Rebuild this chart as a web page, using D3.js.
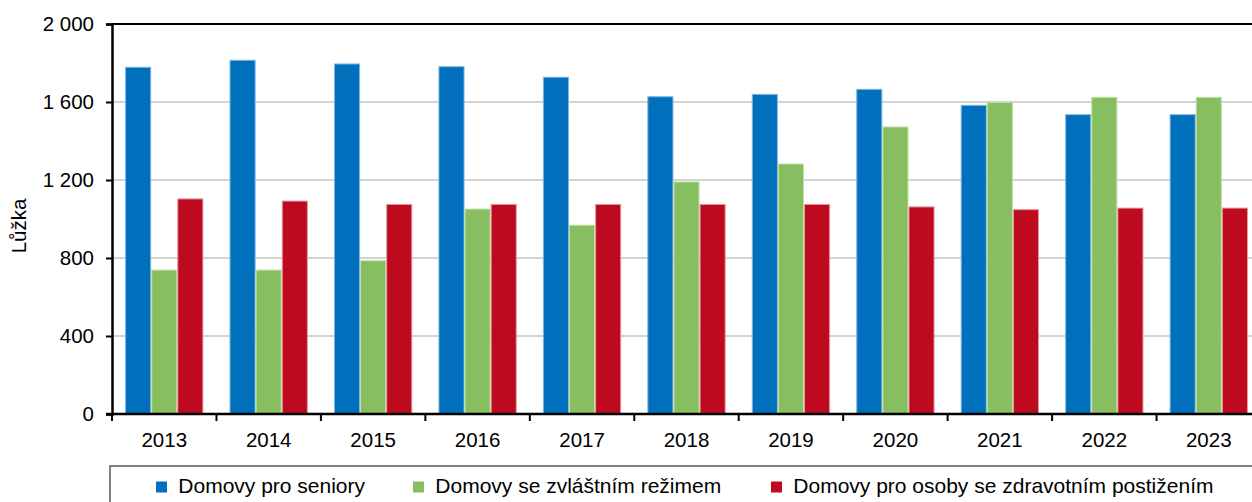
<!DOCTYPE html>
<html><head><meta charset="utf-8">
<script src="https://cdn.jsdelivr.net/npm/d3@7"></script>
<style>
html,body{margin:0;padding:0;background:#fff;overflow:hidden}
svg{display:block;font-family:"Liberation Sans",Arial,sans-serif}
</style></head>
<body>
<svg id="chart" width="1252" height="502"></svg>
<script>
const years = ["2013","2014","2015","2016","2017","2018","2019","2020","2021","2022","2023"];
const seriesNames = ["Domovy pro seniory","Domovy se zvláštním režimem","Domovy pro osoby se zdravotním postižením"];
const seniory = [1778,1814,1795,1781,1727,1627,1639,1665,1583,1535,1535];
const rezim    = [738,738,786,1051,968,1190,1282,1472,1598,1624,1624];
const postizeni= [1103,1092,1075,1075,1075,1075,1075,1062,1048,1056,1056];
const colors = ["#0070bd","#87be5f","#bd0a1e"];
const strokes = ["#7fb6e0","#c0e0a8","#e59aa3"];
const yTicks = [0,400,800,1200,1600,2000];

const series = [seniory, rezim, postizeni];
const svg = d3.select("#chart");
const mLeft = 112, mRight = 1261, mTop = 24, mBottom = 414;

const x = d3.scaleBand().domain(years).range([mLeft, mRight]).paddingInner(0.25).paddingOuter(0.125);
const xOuter = d3.scaleBand().domain(years).range([mLeft, mRight]);
const xs = d3.scaleBand().domain([0,1,2]).range([0, x.bandwidth()]);
const y = d3.scaleLinear().domain([0,2000]).range([mBottom, mTop]);
const fmt = v => d3.format(",")(v).replace(/,/g, " ");

// gridlines
svg.append("g").selectAll("line").data(yTicks.filter(t => t > 0 && t < 2000)).join("line")
  .attr("x1", mLeft).attr("x2", mRight).attr("y1", d => y(d)).attr("y2", d => y(d))
  .attr("stroke", "#c4c4c4").attr("stroke-width", 1.5);

// bars
years.forEach((yr, i) => {
  series.forEach((s, k) => {
    svg.append("rect")
      .attr("x", x(yr) + xs(k) + 0.5)
      .attr("y", y(s[i]))
      .attr("width", xs.bandwidth() - 1)
      .attr("height", y(0) - y(s[i]))
      .attr("fill", colors[k])
      .attr("stroke", strokes[k]).attr("stroke-width", 1);
  });
});

// top border
svg.append("line").attr("x1", mLeft).attr("x2", mRight).attr("y1", mTop).attr("y2", mTop)
  .attr("stroke", "#000").attr("stroke-width", 2);

// y axis
const yAxis = d3.axisLeft(y).tickValues(yTicks).tickSize(6).tickPadding(12).tickFormat(fmt);
const gy = svg.append("g").attr("transform", `translate(${mLeft},0)`).call(yAxis);
gy.select(".domain").attr("stroke", "#000").attr("stroke-width", 2.5);
gy.selectAll(".tick line").attr("stroke", "#000").attr("stroke-width", 2);
gy.selectAll(".tick text").attr("font-size", 20.5).attr("fill", "#000").attr("font-family", "Liberation Sans, Arial, sans-serif");

// x axis
const gx = svg.append("g").attr("transform", `translate(0,${mBottom})`);
gx.append("line").attr("x1", mLeft - 6).attr("x2", mRight).attr("stroke", "#000").attr("stroke-width", 2.5);
gx.selectAll("line.t").data(years).join("line").attr("class","t")
  .attr("x1", d => xOuter(d)).attr("x2", d => xOuter(d)).attr("y1", 0).attr("y2", 7)
  .attr("stroke", "#000").attr("stroke-width", 2);
gx.selectAll("text").data(years).join("text")
  .attr("x", d => xOuter(d) + xOuter.bandwidth()/2).attr("y", 32.5)
  .attr("text-anchor", "middle").attr("font-size", 20.5).attr("fill", "#000").text(d => d);

// y label
svg.append("text").attr("transform", "translate(26,226) rotate(-90)")
  .attr("text-anchor", "middle").attr("font-size", 20.5).attr("fill", "#000").text("Lůžka");

// legend
const lg = svg.append("g");
lg.append("rect").attr("x", 110).attr("y", 466).attr("width", 1200).attr("height", 60)
  .attr("fill", "none").attr("stroke", "#5a5a5a").attr("stroke-width", 1.5);
const legendX = [156, 413, 771];
seriesNames.forEach((n, k) => {
  lg.append("rect").attr("x", legendX[k]).attr("y", 481.5).attr("width", 11).attr("height", 11).attr("fill", colors[k]);
  lg.append("text").attr("x", legendX[k] + 22.3).attr("y", 492.5).attr("font-size", 21).attr("fill", "#000").text(n);
});
</script>
</body></html>
